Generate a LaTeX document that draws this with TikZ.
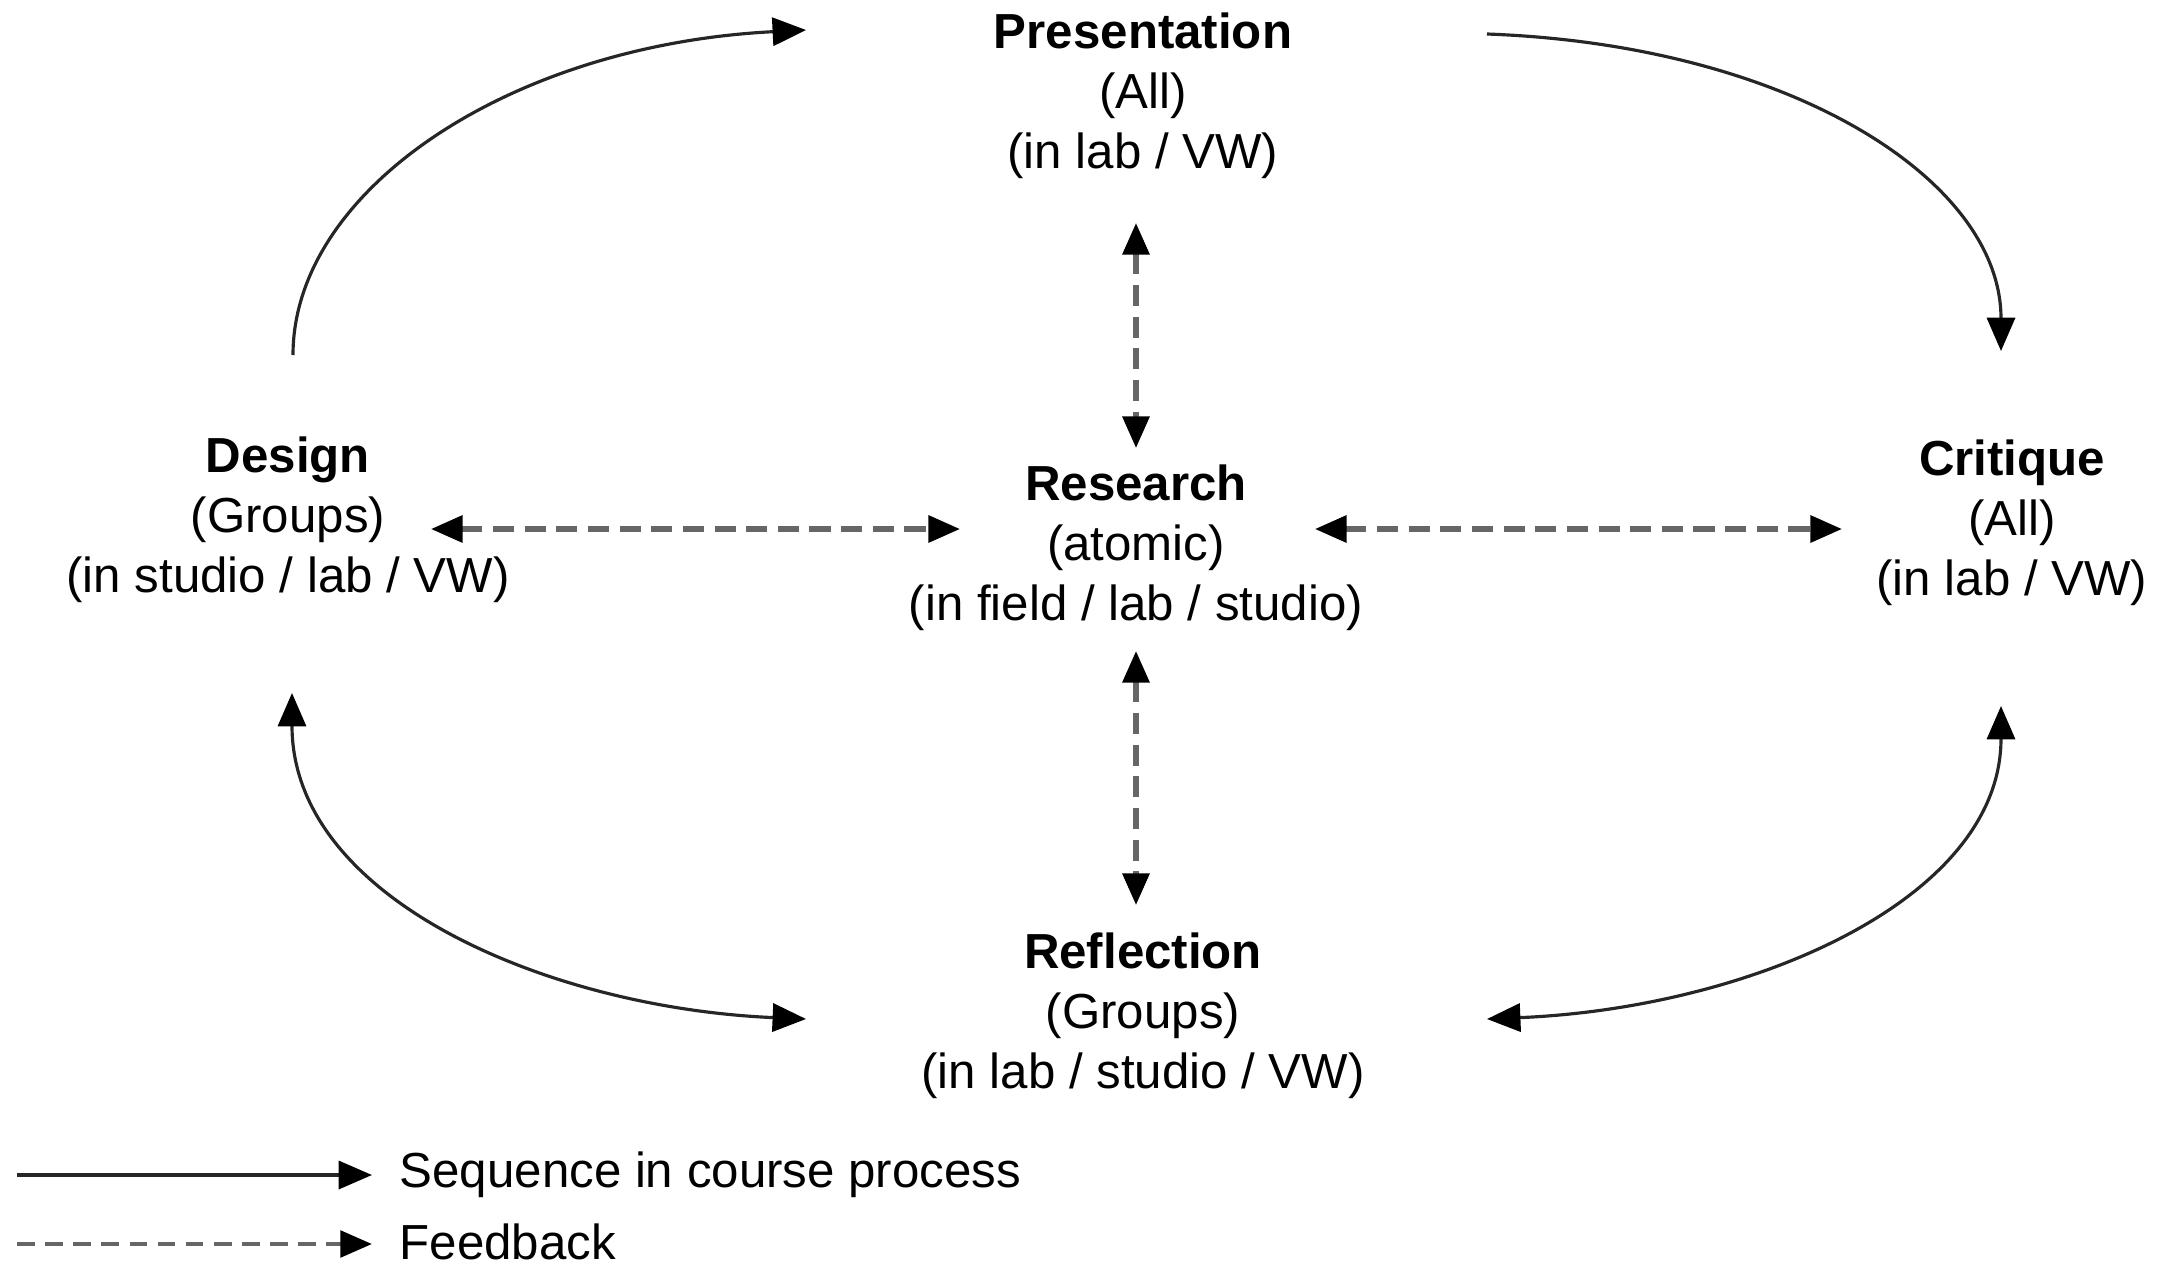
\documentclass[tikz,border=0pt]{standalone}
\usepackage{fontspec}
\setmainfont{Liberation Sans}
\usetikzlibrary{arrows.meta}
\begin{document}
\begin{tikzpicture}[x=0.01cm,y=-0.01cm,
  lbl/.style={align=center, font=\fontsize{14}{17}\selectfont, inner sep=0pt},
  legtext/.style={anchor=west, font=\fontsize{14}{17}\selectfont, inner sep=0pt},
  seq/.style={draw=black!85, line width=0.9pt, -{Triangle[length=9.5pt,width=8pt,color=black]}},
  seqboth/.style={draw=black!85, line width=0.9pt, {Triangle[length=9.5pt,width=8pt,color=black]}-{Triangle[length=9.5pt,width=8pt,color=black]}},
  fb/.style={draw=black!60, line width=1.5pt, dash pattern=on 6pt off 3pt, {Triangle[length=9pt,width=7.5pt,color=black]}-{Triangle[length=9pt,width=7.5pt,color=black]}},
  fbone/.style={draw=black!60, line width=1.3pt, dash pattern=on 5pt off 3pt, -{Triangle[length=9pt,width=7.5pt,color=black]}}
]
\useasboundingbox (0,0) rectangle (2159,1266);

% nodes
\node[lbl] (pres) at (1143,96) {\textbf{Presentation}\\(All)\\(in lab / VW)};
\node[lbl] (des) at (288,520) {\textbf{Design}\\(Groups)\\(in studio / lab / VW)};
\node[lbl] (res) at (1136,548) {\textbf{Research}\\(atomic)\\(in field / lab / studio)};
\node[lbl] (crit) at (2012,523) {\textbf{Critique}\\(All)\\(in lab / VW)};
\node[lbl] (refl) at (1143,1016) {\textbf{Reflection}\\(Groups)\\(in lab / studio / VW)};

% connector end points
\coordinate (desTop) at (293,355);
\coordinate (presL) at (806,30);
\coordinate (presR) at (1487,34);
\coordinate (critTop) at (2001,351);
\coordinate (desBot) at (292,693);
\coordinate (reflL) at (806,1019);
\coordinate (critBot) at (2001,706);
\coordinate (reflR) at (1487,1019);

\coordinate (presS) at (1136,223);
\coordinate (resN) at (1136,448);
\coordinate (resS) at (1136,651);
\coordinate (reflN) at (1136,905);
\coordinate (desE) at (431,529);
\coordinate (resW) at (960,529);
\coordinate (resE) at (1315,529);
\coordinate (critW) at (1842,529);

% sequence arrows
\draw[seq] (desTop) .. controls (293,190) and (510,45) .. (presL);
\draw[seq] (presR) .. controls (1790,45) and (2001,180) .. (critTop);
\draw[seqboth] (desBot) .. controls (292,900) and (550,1008) .. (reflL);
\draw[seqboth] (critBot) .. controls (2001,900) and (1750,1008) .. (reflR);

% feedback arrows
\draw[fb] (presS) -- (resN);
\draw[fb] (resS) -- (reflN);
\draw[fb] (desE) -- (resW);
\draw[fb] (resE) -- (critW);

% legend
\coordinate (l1a) at (17,1175);
\coordinate (l1b) at (372,1175);
\coordinate (l2a) at (17,1244);
\coordinate (l2b) at (372,1244);
\draw[seq] (l1a) -- (l1b);
\draw[fbone] (l2a) -- (l2b);
\node[legtext] (leg1) at (399,1175) {Sequence in course process};
\node[legtext] (leg2) at (399,1242) {Feedback};
\end{tikzpicture}
\end{document}
